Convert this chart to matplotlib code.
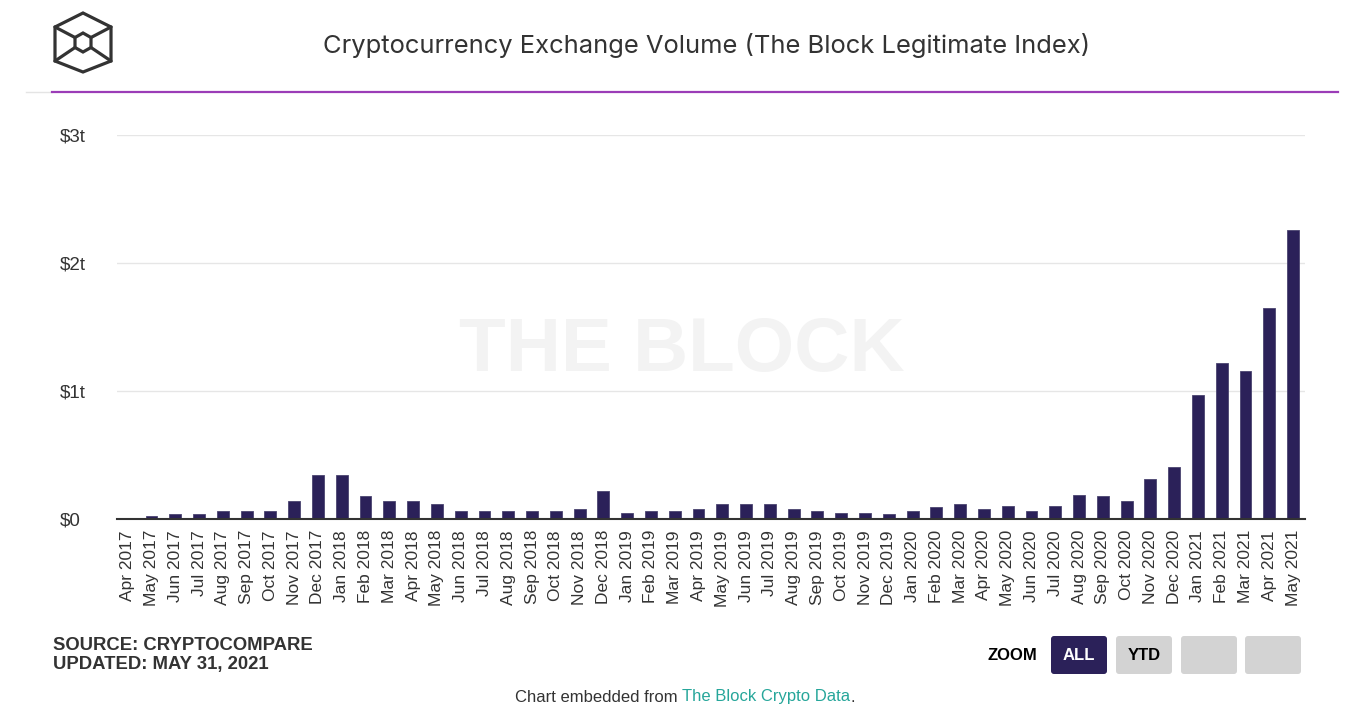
import pandas as pd
import matplotlib.pyplot as plt
from matplotlib.patches import FancyBboxPatch, Polygon

# monthly volume, trillions USD
months = list(pd.date_range('2017-04-01', periods=50, freq='MS').strftime('%b %Y'))
volume = [0.005, 0.027, 0.04, 0.04, 0.066, 0.066, 0.066, 0.137, 0.34,
          0.34, 0.176, 0.137, 0.137, 0.12, 0.066, 0.066, 0.066, 0.066, 0.066, 0.08, 0.218,
          0.05, 0.066, 0.066, 0.08, 0.12, 0.12, 0.12, 0.08, 0.066, 0.05, 0.05, 0.036,
          0.066, 0.092, 0.12, 0.08, 0.105, 0.066, 0.105, 0.19, 0.176, 0.137, 0.31, 0.41,
          0.97, 1.22, 1.16, 1.65, 2.26]
yticks = [0, 1, 2, 3]
ytick_labels = ['$0', '$1t', '$2t', '$3t']

W, H = 1361, 727
bar_color = '#2b2159'
text_color = '#333333'

fig = plt.figure(figsize=(W / 100, H / 100), dpi=100)

# background layer in pixel coordinates
bg = fig.add_axes([0, 0, 1, 1], zorder=0)
bg.set_xlim(0, W)
bg.set_ylim(H, 0)
bg.axis('off')

# main chart
ax = fig.add_axes([117 / W, 1 - 519 / H, (1305 - 117) / W, (519 - 135) / H], zorder=1)
ax.set_facecolor('none')
x = list(range(len(months)))
ax.bar(x, volume, width=0.5, color=bar_color, edgecolor='#4a4470', linewidth=0.6, zorder=3)
ax.set_xlim(-0.45, len(months) - 0.5)
ax.set_ylim(0, 3)
ax.set_yticks(yticks)
ax.set_yticklabels(ytick_labels, fontsize=13.5, color=text_color, family='Liberation Sans')
for lab in ax.get_yticklabels():
    lab.set_ha('left')
ax.set_xticks(x)
ax.set_xticklabels(months, rotation=90, fontsize=12.5, color=text_color, family='Liberation Sans')
ax.tick_params(axis='y', length=0, pad=41)
ax.tick_params(axis='x', length=0, pad=8)
ax.grid(axis='y', color='#e6e6e6', linewidth=1, zorder=0)
for s in ['top', 'right', 'left']:
    ax.spines[s].set_visible(False)
ax.spines['bottom'].set_color('#333333')
ax.spines['bottom'].set_linewidth(1.5)
ax.spines['bottom'].set_zorder(4)

# watermark
bg.text(682, 352, 'THE BLOCK', fontsize=55, fontweight='bold', color='#f3f3f3',
        ha='center', va='center', family='Liberation Sans')

# header
bg.text(707, 46, 'Cryptocurrency Exchange Volume (The Block Legitimate Index)', fontsize=18.4,
        color=text_color, ha='center', va='center', family='Inter')
bg.plot([26, 52], [92, 92], color='#e4e4e4', lw=1)
bg.plot([52, 1338], [91.5, 91.5], color='#9b3cb7', lw=1.6)

# logo
outer = [(83, 13), (111, 27), (111, 61), (83, 72), (55, 61), (55, 27)]
inner = [(83, 33), (91, 37.5), (91, 47.5), (83, 52), (75, 47.5), (75, 37.5)]
bg.add_patch(Polygon(outer, closed=True, fill=False, ec=text_color, lw=2.3))
bg.add_patch(Polygon(inner, closed=True, fill=False, ec=text_color, lw=2.3))
for a, b in [((55, 27), (75, 37.5)), ((111, 27), (91, 37.5)),
             ((55, 61), (75, 47.5)), ((111, 61), (91, 47.5))]:
    bg.plot([a[0], b[0]], [a[1], b[1]], color=text_color, lw=2.3, solid_capstyle='round')

# source
bg.text(53, 645, 'SOURCE: CRYPTOCOMPARE', fontsize=13.3, fontweight='bold', color=text_color,
        ha='left', va='center', family='Liberation Sans')
bg.text(53, 665, 'UPDATED: MAY 31, 2021', fontsize=13.3, fontweight='bold', color=text_color,
        ha='left', va='center', family='Liberation Sans')

# zoom buttons
bg.text(1012, 656, 'ZOOM', fontsize=12, fontweight='bold', color='black',
        ha='center', va='center', family='Liberation Sans')
buttons = [('ALL', 1051, bar_color, 'white'), ('YTD', 1116, '#d3d3d3', 'black'),
           ('', 1181, '#d3d3d3', 'black'), ('', 1245, '#d3d3d3', 'black')]
for label, bx, fc, tc in buttons:
    bg.add_patch(FancyBboxPatch((bx, 636), 56, 38, boxstyle='round,pad=0,rounding_size=3',
                                fc=fc, ec='none'))
    if label:
        bg.text(bx + 28, 656, label, fontsize=12, fontweight='bold', color=tc,
                ha='center', va='center', family='Liberation Sans')

# footer
t1 = bg.text(678, 697, 'Chart embedded from', fontsize=12, color=text_color,
             ha='right', va='center', family='Liberation Sans')
t2 = bg.text(682, 697, 'The Block Crypto Data', fontsize=12, color='#26a69a',
             ha='left', va='center', family='Liberation Sans')
fig.canvas.draw()
bb = t2.get_window_extent()
x_end = bg.transData.inverted().transform((bb.x1, bb.y0))[0]
bg.text(x_end, 697, '.', fontsize=12, color=text_color, ha='left', va='center',
        family='Liberation Sans')

fig.savefig('out.png', dpi=100)
